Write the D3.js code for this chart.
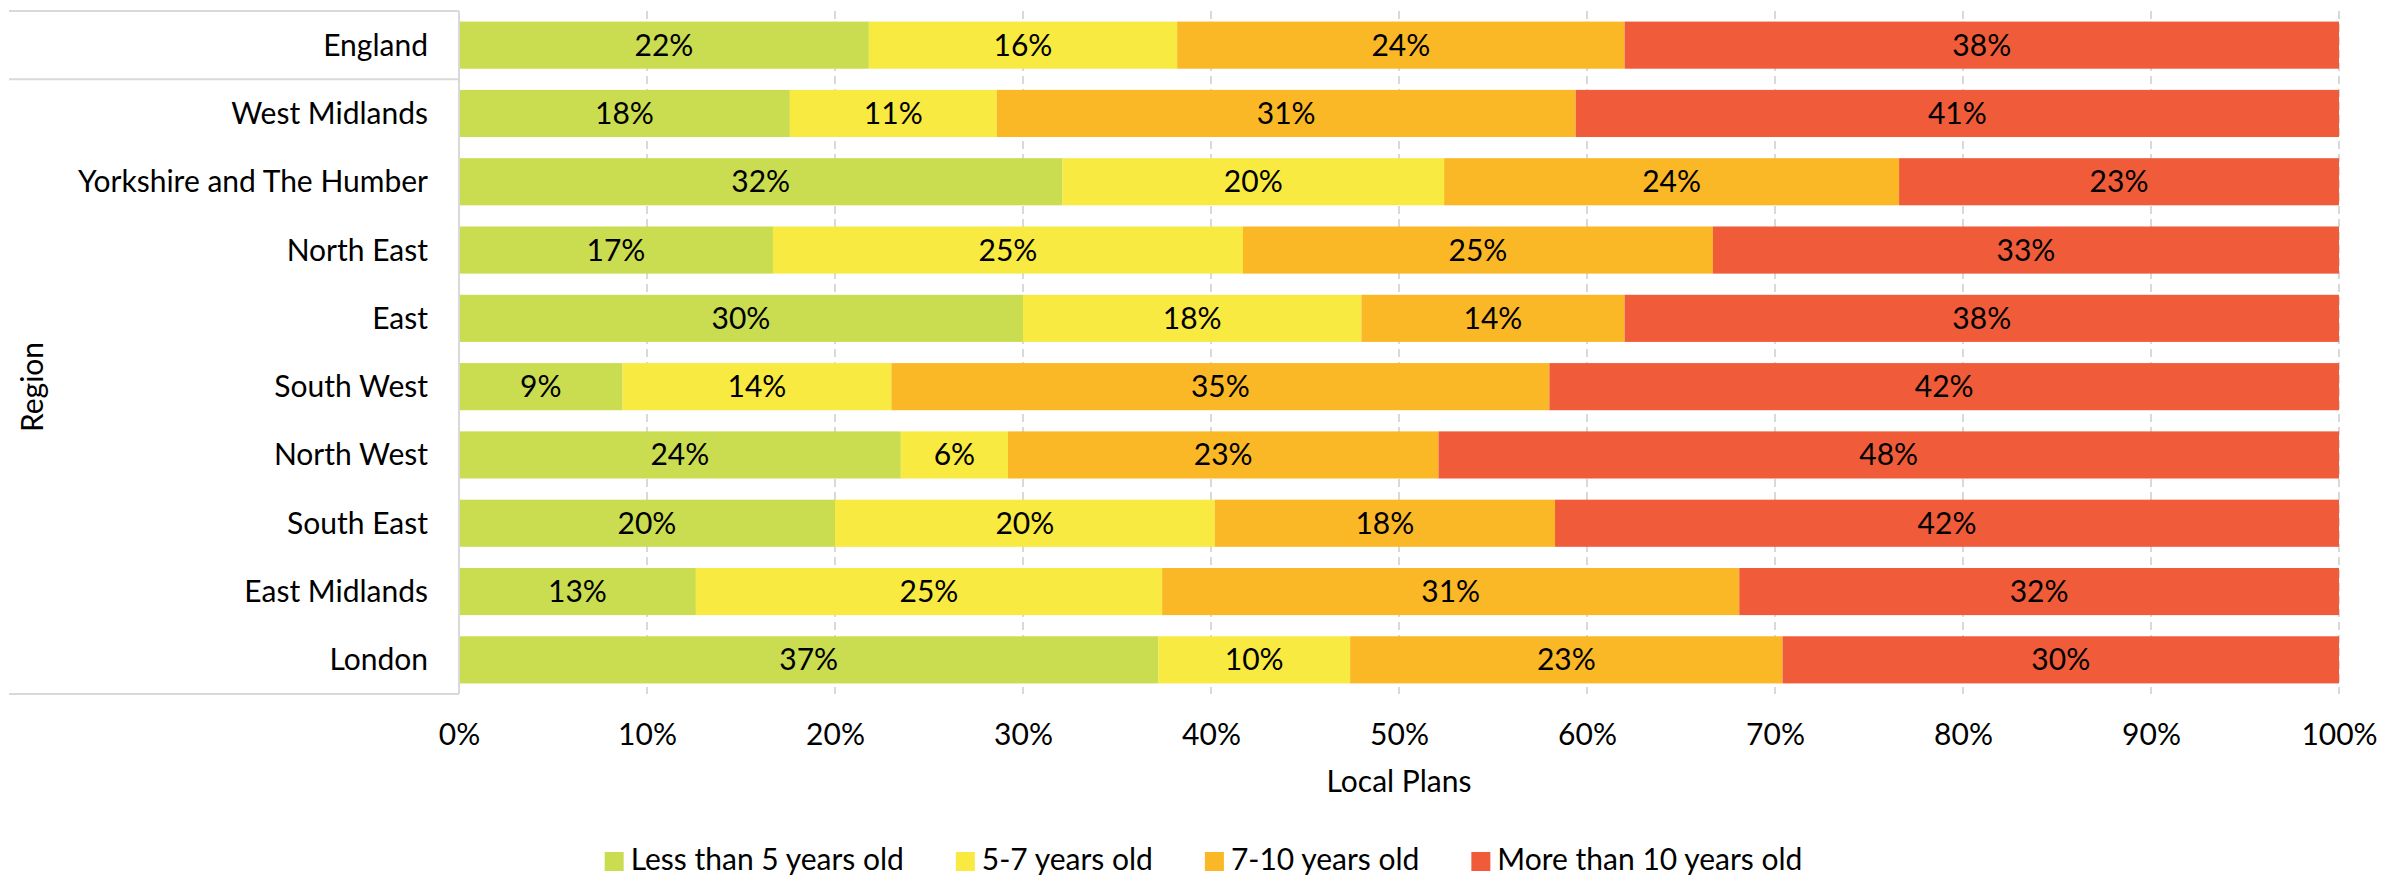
<!DOCTYPE html>
<html>
<head>
<meta charset="utf-8">
<script src="https://cdn.jsdelivr.net/npm/d3@7"></script>
<style>
  body { margin: 0; background: #fff; }
  svg text { font-family: Lato, "Open Sans", sans-serif; fill: #000; }
</style>
</head>
<body>
<script>
// categories, top to bottom
var regions = ["England", "West Midlands", "Yorkshire and The Humber", "North East", "East",
    "South West", "North West", "South East", "East Midlands", "London"];

var seriesNames = ["Less than 5 years old", "5-7 years old", "7-10 years old", "More than 10 years old"];
var seriesColors = ["#cadc50", "#f8ea40", "#fbb826", "#f05b3a"];

// share of local plans per region (fractions)
var lessThan5 = [0.218, 0.176, 0.321, 0.167, 0.300, 0.087, 0.235, 0.200, 0.126, 0.372];
var fiveToSeven = [0.164, 0.110, 0.203, 0.250, 0.180, 0.143, 0.057, 0.202, 0.248, 0.102];
var sevenToTen = [0.238, 0.308, 0.242, 0.250, 0.140, 0.350, 0.229, 0.181, 0.307, 0.230];
var moreThan10 = [0.380, 0.406, 0.234, 0.333, 0.380, 0.420, 0.479, 0.417, 0.319, 0.296];

var tickValues = [0, 0.1, 0.2, 0.3, 0.4, 0.5, 0.6, 0.7, 0.8, 0.9, 1];

var W = 2407, H = 880;
var margin = {top: 11, right: 68, bottom: 186, left: 459};
var width = W - margin.left - margin.right,
    height = H - margin.top - margin.bottom;
var fontSize = 30;

var svg = d3.select("body").append("svg")
    .attr("width", W)
    .attr("height", H);

var g = svg.append("g")
    .attr("transform", "translate(" + margin.left + "," + margin.top + ")");

var x = d3.scaleLinear().domain([0, 1]).range([0, width]);
var y = d3.scaleBand().domain(regions).range([0, height])
    .paddingInner(0.31).paddingOuter(0.155);

// build rows for stacking
var rows = regions.map(function(r, i) {
    return {region: r, s0: lessThan5[i], s1: fiveToSeven[i], s2: sevenToTen[i], s3: moreThan10[i]};
});
var stack = d3.stack().keys(["s0", "s1", "s2", "s3"]);
var series = stack(rows);

// dashed gridlines
g.append("g")
    .selectAll("line")
    .data(tickValues.slice(1))
    .enter()
    .append("line")
    .attr("x1", function(d) { return x(d); })
    .attr("x2", function(d) { return x(d); })
    .attr("y1", 0)
    .attr("y2", height)
    .attr("stroke", "#d9d9d9")
    .attr("stroke-width", 2)
    .attr("stroke-dasharray", "8,5");

// bars
var layers = g.selectAll("g.layer")
    .data(series)
    .enter()
    .append("g")
    .attr("class", "layer")
    .attr("fill", function(d, i) { return seriesColors[i]; });

layers.selectAll("rect")
    .data(function(d) { return d; })
    .enter()
    .append("rect")
    .attr("x", function(d) { return x(d[0]); })
    .attr("y", function(d) { return y(d.data.region); })
    .attr("width", function(d) { return x(d[1]) - x(d[0]); })
    .attr("height", y.bandwidth());

// data labels
var fmt = d3.format(".0%");
layers.selectAll("text")
    .data(function(d) { return d; })
    .enter()
    .append("text")
    .attr("x", function(d) { return (x(d[0]) + x(d[1])) / 2; })
    .attr("y", function(d) { return y(d.data.region) + y.bandwidth() / 2; })
    .attr("dy", "0.35em")
    .attr("text-anchor", "middle")
    .style("font-size", fontSize + "px")
    .text(function(d) { return fmt(d[1] - d[0]); });

// category label box
var step = y.step();
var lineYs = [0, y("England") - step * 0.155 + step, height];
g.append("g")
    .selectAll("line")
    .data(lineYs)
    .enter()
    .append("line")
    .attr("x1", 9 - margin.left)
    .attr("x2", 0)
    .attr("y1", function(d) { return d; })
    .attr("y2", function(d) { return d; })
    .attr("stroke", "#d9d9d9")
    .attr("stroke-width", 2);

g.append("line")
    .attr("x1", 0).attr("x2", 0)
    .attr("y1", 0).attr("y2", height)
    .attr("stroke", "#d9d9d9")
    .attr("stroke-width", 2);

g.append("g")
    .selectAll("text")
    .data(regions)
    .enter()
    .append("text")
    .attr("x", -31)
    .attr("y", function(d) { return y(d) + y.bandwidth() / 2; })
    .attr("dy", "0.35em")
    .attr("text-anchor", "end")
    .style("font-size", fontSize + "px")
    .text(function(d) { return d; });

// x axis
var xAxis = g.append("g")
    .attr("transform", "translate(0," + height + ")")
    .call(d3.axisBottom(x).tickValues(tickValues).tickFormat(d3.format(".0%")).tickSize(0).tickPadding(30));
xAxis.select(".domain").remove();
xAxis.selectAll("text")
    .style("font-size", fontSize + "px")
    .style("font-family", "Lato, sans-serif")
    .attr("fill", "#000");

// axis titles
svg.append("text")
    .attr("x", margin.left + width / 2)
    .attr("y", 792)
    .attr("text-anchor", "middle")
    .style("font-size", fontSize + "px")
    .text("Local Plans");

svg.append("text")
    .attr("transform", "translate(43,387) rotate(-90)")
    .attr("text-anchor", "middle")
    .style("font-size", fontSize + "px")
    .text("Region");

// legend, centred on the page
var legend = svg.append("g");
var items = legend.selectAll("g")
    .data(seriesNames)
    .enter()
    .append("g");
items.append("rect")
    .attr("width", 19)
    .attr("height", 19)
    .attr("y", -18)
    .attr("fill", function(d, i) { return seriesColors[i]; });
items.append("text")
    .attr("x", 26)
    .style("font-size", fontSize + "px")
    .text(function(d) { return d; });

var pos = 0;
items.each(function() {
    var w = this.getBBox().width;
    d3.select(this).attr("transform", "translate(" + pos + ",0)");
    pos += w + 52;
});
pos -= 52;
legend.attr("transform", "translate(" + ((W - pos) / 2) + ",870)");
</script>
</body>
</html>
